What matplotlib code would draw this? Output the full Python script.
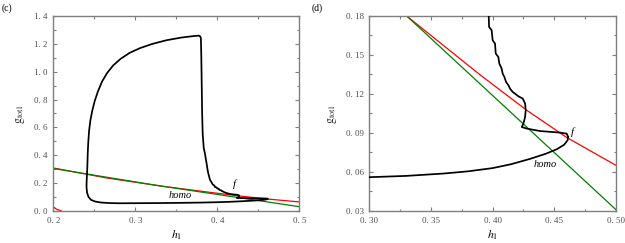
import matplotlib
matplotlib.use("Agg")
import matplotlib.pyplot as plt
from matplotlib.ticker import MultipleLocator, FuncFormatter

# ---------------- data ----------------
# closed black curve (h1, g_tot1), starting at fold f, lower branch leftward
loop_h = [0.4612, 0.4608, 0.4580, 0.4520, 0.4430, 0.4300, 0.4150, 0.4000, 0.3800, 0.3600,
          0.3300, 0.3000, 0.2800, 0.2680, 0.2580, 0.2510, 0.2460, 0.2430, 0.2412, 0.2405,
          0.2406, 0.2415, 0.2420, 0.2427, 0.2437, 0.2452, 0.2475, 0.2505, 0.2545, 0.2595,
          0.2655, 0.2730, 0.2820, 0.2930, 0.3060, 0.3210, 0.3380, 0.3560, 0.3700, 0.3772,
          0.3790, 0.3800, 0.3805, 0.3810, 0.3815, 0.3822, 0.3835, 0.3850, 0.3858, 0.3870,
          0.3880, 0.3890, 0.3910, 0.3945,
          0.3968, 0.3971, 0.3992, 0.4000, 0.4019, 0.4025, 0.4046, 0.4054, 0.4073, 0.4081,
          0.4095, 0.4109, 0.4128, 0.4141, 0.4163, 0.4181, 0.4209, 0.4244, 0.4263, 0.4268,
          0.4263, 0.4249, 0.4236, 0.4276, 0.4384, 0.4546, 0.4600, 0.4612]
loop_g = [0.0870, 0.0845, 0.0810, 0.0775, 0.0740, 0.0700, 0.0660, 0.0630, 0.0605, 0.0588,
          0.0570, 0.0560, 0.0555, 0.0570, 0.0610, 0.0680, 0.0800, 0.1000, 0.1300, 0.1700,
          0.2080, 0.3160, 0.4200, 0.5000, 0.5800, 0.6500, 0.7200, 0.7900, 0.8600, 0.9300,
          0.9900, 1.0450, 1.0920, 1.1350, 1.1700, 1.2000, 1.2260, 1.2450, 1.2550, 1.2590,
          1.2550, 1.2400, 1.1000, 0.9000, 0.7000, 0.5500, 0.4500, 0.4100, 0.3800, 0.3400,
          0.3000, 0.2700, 0.2250, 0.1900,
          0.1805, 0.1716, 0.1690, 0.1613, 0.1588, 0.1511, 0.1485, 0.1434, 0.1395, 0.1357,
          0.1331, 0.1292, 0.1267, 0.1241, 0.1215, 0.1203, 0.1182, 0.1165, 0.1126, 0.1075,
          0.1023, 0.0972, 0.0946, 0.0934, 0.0915, 0.0903, 0.0895, 0.0870]

red_h = [0.200, 0.265, 0.3303, 0.390, 0.4276, 0.460, 0.500]
red_g = [0.309, 0.237, 0.1800, 0.1346, 0.1075, 0.0866, 0.0651]

red2_h = [0.200, 0.204, 0.210]
red2_g = [0.030, 0.012, 0.000]

green_h = [0.200, 0.3303, 0.500]
green_g = [0.305, 0.1800, 0.031]

panel_labels = ["(c)", "(d)"]
xlims = [(0.2, 0.5), (0.3, 0.5)]
ylims = [(0.0, 1.4), (0.03, 0.18)]
xmajor = [0.1, 0.05]
ymajor = [0.2, 0.03]
xdec = [1, 2]
ydec = [1, 2]

# ---------------- figure ----------------
plt.rcParams['font.family'] = ['Liberation Serif', 'DejaVu Serif']
plt.rcParams['mathtext.fontset'] = 'stix'

fig = plt.figure(figsize=(6.25, 2.43), dpi=100)
axL = fig.add_axes([0.0853, 0.1317, 0.3936, 0.8025])
axR = fig.add_axes([0.5909, 0.1317, 0.3947, 0.8025])

spine_col = '#7f7f7f'
tick_col = '#505050'

def fmt(dec):
    def f(v, pos):
        s = f"{v:.{dec}f}"
        return s.replace('.', '. ')
    return FuncFormatter(f)

for i, ax in enumerate([axL, axR]):
    ax.plot(loop_h, loop_g, color='black', lw=1.25, zorder=3)
    ax.plot(red_h, red_g, color='#ff0000', lw=0.9, zorder=2)
    ax.plot(green_h, green_g, color='#008000', lw=0.9, zorder=2)
    ax.plot(red2_h, red2_g, color='#ff0000', lw=0.9, zorder=2)
    ax.set_xlim(*xlims[i])
    ax.set_ylim(*ylims[i])
    ax.xaxis.set_major_locator(MultipleLocator(xmajor[i]))
    ax.xaxis.set_minor_locator(MultipleLocator(xmajor[i] / 2))
    ax.yaxis.set_major_locator(MultipleLocator(ymajor[i]))
    ax.yaxis.set_minor_locator(MultipleLocator(ymajor[i] / 2))
    ax.xaxis.set_major_formatter(fmt(xdec[i]))
    ax.yaxis.set_major_formatter(fmt(ydec[i]))
    ax.tick_params(which='both', direction='in', top=True, right=True,
                   color=spine_col, labelcolor=tick_col, labelsize=6.5, width=0.8)
    ax.tick_params(which='major', length=3, pad=4)
    ax.tick_params(which='minor', length=1.8)
    for sp in ax.spines.values():
        sp.set_color(spine_col)
        sp.set_linewidth(1.0)
    ax.set_xlabel(r'$h_1$', fontsize=8.5, labelpad=3)
    ax.set_ylabel(r'$\mathrm{g}_{\mathrm{tot1}}$', fontsize=8.5, labelpad=5, color='#333333')

axL.text(0.4195, 0.175, 'f', style='italic', fontsize=8)
axL.text(0.3545, 0.112, 'homo', style='italic', fontsize=7.5, ha='center', va='center')
axR.text(0.4635, 0.0885, 'f', style='italic', fontsize=8)
axR.text(0.4425, 0.066, 'homo', style='italic', fontsize=7.5, ha='center', va='center')

fig.text(0.003, 0.985, panel_labels[0], fontsize=7, va='top', ha='left')
fig.text(0.499, 0.985, panel_labels[1], fontsize=7, va='top', ha='left')

fig.savefig('out.png', dpi=100)
